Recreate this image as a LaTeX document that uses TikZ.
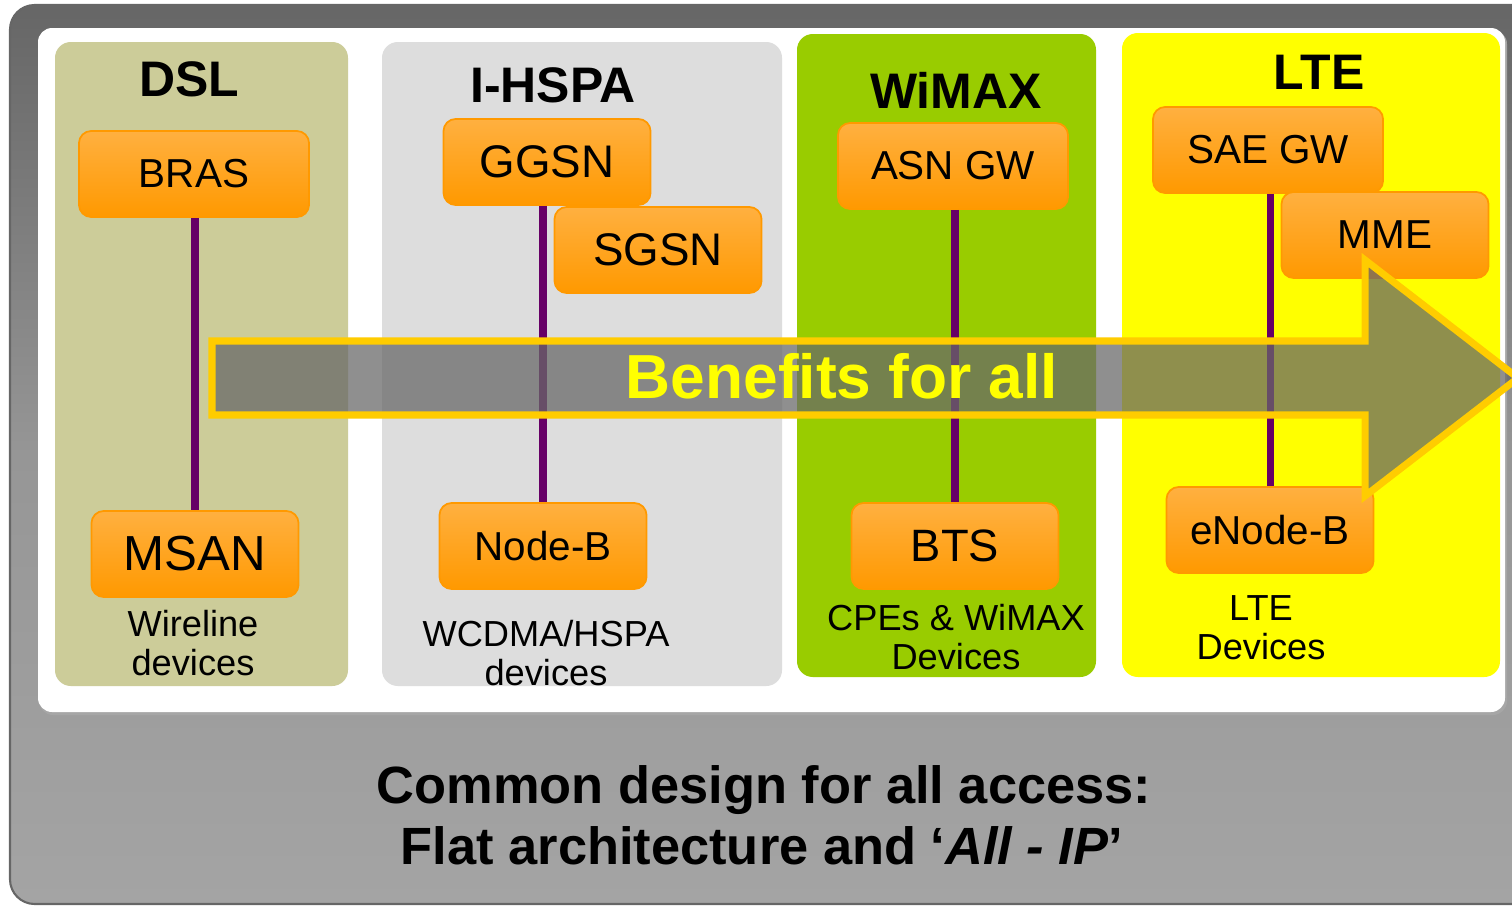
\documentclass[tikz,border=0pt]{standalone}
\usepackage{fontspec}
\setmainfont{Liberation Sans}
\definecolor{dslc}{RGB}{204,204,153}
\definecolor{hspac}{RGB}{221,221,221}
\definecolor{wimaxc}{RGB}{153,204,0}
\definecolor{ltec}{RGB}{255,255,0}
\definecolor{boxtop}{RGB}{255,176,64}
\definecolor{boxbot}{RGB}{255,153,0}
\definecolor{linkc}{RGB}{102,0,102}
\definecolor{arrowc}{RGB}{104,104,104}
\definecolor{goldc}{RGB}{255,204,0}
\definecolor{framec}{RGB}{164,164,164}
\definecolor{framemid}{RGB}{150,150,150}
\definecolor{framedark}{RGB}{102,102,102}
\newcommand\fsz[1]{\fontsize{#1}{#1}\selectfont}

\begin{document}
\begin{tikzpicture}[x=0.01cm, y=-0.01cm,
    col/.style={rounded corners=4.5pt},
    box/.style={draw=boxbot, line width=0.5pt, top color=boxtop, bottom color=boxbot, rounded corners=3.5pt,
        minimum width=2.3cm, minimum height=0.86cm, inner sep=0pt, font=\fsz{11.5}},
    nbox/.style={box, minimum width=2.07cm},
    ttl/.style={anchor=base, font=\bfseries\fsz{14.2}},
    dev/.style={align=center, inner sep=0pt, font=\fontsize{10.3}{11}\selectfont},
    link/.style={draw=linkc, line width=2pt}]
    \useasboundingbox (0,0) rectangle (1512,906);
    \clip (0,0) rectangle (1512,906);
    % frame
    \fill[rounded corners=7pt, top color=framedark, bottom color=framec, middle color=framemid] (10,5) rectangle (1560,904);
    \draw[framedark, line width=0.6pt, rounded corners=7pt] (10,5) rectangle (1560,904);
    \fill[gray!70, rounded corners=4pt] (39,30) rectangle (1507,715);
    \fill[white, rounded corners=4pt] (38,28) rectangle (1505,712);
    % columns
    \fill[col, dslc] (55,42) rectangle (348,686);
    \fill[col, hspac] (382,42) rectangle (782,686);
    \fill[col, wimaxc] (797,34) rectangle (1096,677);
    \fill[col, ltec] (1122,33) rectangle (1500,677);
    \node[ttl] (dsl) at (189,97) {DSL};
    \node[ttl] (hspa) at (553,102) {I-HSPA};
    \node[ttl] (wimax) at (956,108) {WiMAX};
    \node[ttl] (lte) at (1319,90) {LTE};
    % network elements
    \node[box] (bras) at (194,174) {BRAS};
    \node[nbox, font=\fsz{14}] (msan) at (195,554) {MSAN};
    \node[nbox, font=\fsz{13}] (ggsn) at (547,162) {GGSN};
    \node[nbox, font=\fsz{13}] (sgsn) at (658,250) {SGSN};
    \node[nbox] (nodeb) at (543,546) {Node-B};
    \node[box] (asngw) at (953,166) {ASN GW};
    \node[nbox, font=\fsz{12.9}] (bts) at (955,546) {BTS};
    \node[box] (saegw) at (1268,150) {SAE GW};
    \node[nbox] (mme) at (1385,235) {MME};
    \node[nbox] (enb) at (1270,530) {eNode-B};
    \draw[link] (bras.south -| msan.north) -- (msan.north);
    \draw[link] (ggsn.south -| nodeb.north) -- (nodeb.north);
    \draw[link] (asngw.south -| bts.north) -- (bts.north);
    \draw[link] (saegw.south -| enb.north) -- (enb.north);
    \node[dev] (wire) at (193,643) {Wireline\\devices};
    \node[dev] (wcdma) at (546,653) {WCDMA/HSPA\\devices};
    \node[dev] (cpe) at (956,637) {CPEs \& WiMAX\\Devices};
    \node[dev] (ltedev) at (1261,628) {LTE\\Devices};
    % big arrow
    \filldraw[fill=arrowc, fill opacity=0.74, draw=goldc, line width=2pt, line join=miter]
        (212,341) -- (1365,341) -- (1365,260) -- (1518,378) -- (1365,496) -- (1365,415) -- (212,415) -- cycle;
    \node[anchor=base, font=\bfseries\fsz{17.7}, text=ltec] (benefit) at (842,398) {Benefits for all};
    \node[anchor=base, font=\bfseries\fsz{14.9}] (common) at (764,803) {Common design for all access:};
    \node[anchor=base, font=\bfseries\fsz{14.9}] (flat) at (762,864) {Flat architecture and ‘\textit{All - IP}’};
\end{tikzpicture}
\end{document}
